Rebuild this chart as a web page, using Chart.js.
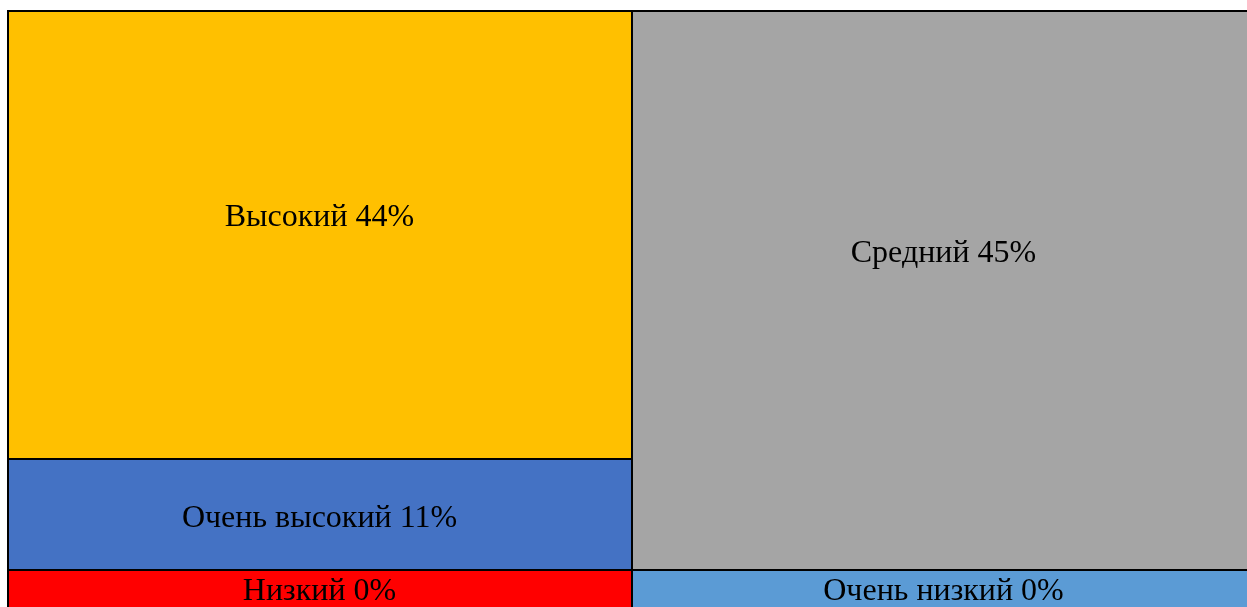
<!DOCTYPE html>
<html lang="ru">
<head>
<meta charset="utf-8">
<title>Treemap</title>
<script src="https://cdn.jsdelivr.net/npm/chart.js@4/dist/chart.umd.min.js"></script>
<style>
    html, body { margin: 0; padding: 0; background: #fff; overflow: hidden; }
    .chart-container { position: absolute; left: 0; top: 0; width: 1262px; height: 615px; }
</style>
</head>
<body>
<div class="chart-container"><canvas id="treeChart"></canvas></div>
<script>
// данные (порядок: снизу вверх внутри столбца)
const names = ["Низкий", "Очень низкий", "Очень высокий", "Высокий", "Средний"];
const percentLabels = [0, 0, 11, 44, 45];
// доли площади
const areaShares = [3.34, 3.33, 9.26, 37.48, 46.59];
// номер столбца плитки
const columns = [0, 1, 0, 0, 1];

// оформление
const colors = ["#FF0000", "#5B9BD5", "#4472C4", "#FFC000", "#A5A5A5"];
const labelShift = [10, 10, 12, -9, -28];

// раскладка: ширина столбца ~ сумме площадей, высота плитки ~ доле внутри столбца
const total = areaShares.reduce((s, v) => s + v, 0);
const colCount = Math.max(...columns) + 1;
const colWidths = [];
for (let c = 0; c < colCount; c++) {
    const sum = areaShares.filter((_, i) => columns[i] === c).reduce((s, v) => s + v, 0);
    colWidths.push(sum / total * 100);
}
const colCenters = [];
let acc = 0;
colWidths.forEach(w => { colCenters.push(acc + w / 2); acc += w; });
let minSpacing = Infinity;
for (let c = 1; c < colCount; c++) {
    minSpacing = Math.min(minSpacing, colCenters[c] - colCenters[c - 1]);
}

const datasets = names.map((name, i) => {
    const c = columns[i];
    return {
        label: name,
        data: [{ x: colCenters[c], y: areaShares[i] / colWidths[c] * 100 }],
        backgroundColor: colors[i],
        borderColor: "#000",
        borderWidth: 1,
        borderSkipped: false,
        categoryPercentage: 1,
        barPercentage: colWidths[c] / minSpacing
    };
});

const labelPlugin = {
    id: "tileLabels",
    afterDatasetsDraw(chart) {
        const ctx = chart.ctx;
        ctx.save();
        ctx.font = "32px 'Liberation Serif', 'Times New Roman', serif";
        ctx.fillStyle = "#000";
        ctx.textAlign = "center";
        ctx.textBaseline = "alphabetic";
        chart.data.datasets.forEach((ds, i) => {
            const bar = chart.getDatasetMeta(i).data[0];
            const { x, y, base } = bar.getProps(["x", "y", "base"], true);
            const cy = (y + base) / 2;
            ctx.fillText(`${names[i]} ${percentLabels[i]}%`, x, cy + labelShift[i]);
        });
        // внешняя рамка чуть толще, как в оригинале
        const a = chart.chartArea;
        ctx.strokeStyle = "#000";
        ctx.lineWidth = 2;
        ctx.beginPath();
        ctx.moveTo(a.right, a.top + 1);
        ctx.lineTo(a.left + 1, a.top + 1);
        ctx.lineTo(a.left + 1, a.bottom);
        ctx.stroke();
        ctx.restore();
    }
};

new Chart(document.getElementById("treeChart").getContext("2d"), {
    type: "bar",
    data: { datasets: datasets },
    options: {
        responsive: true,
        maintainAspectRatio: false,
        animation: false,
        layout: { padding: { left: 7, top: 10, right: 7, bottom: 5 } },
        plugins: {
            legend: { display: false },
            tooltip: { enabled: false }
        },
        scales: {
            x: {
                type: "linear",
                display: false,
                stacked: true,
                offset: false,
                min: 0,
                max: 100,
                ticks: { stepSize: 100 }
            },
            y: {
                display: false,
                stacked: true,
                min: 0,
                max: 100
            }
        }
    },
    plugins: [labelPlugin]
});
</script>
</body>
</html>
